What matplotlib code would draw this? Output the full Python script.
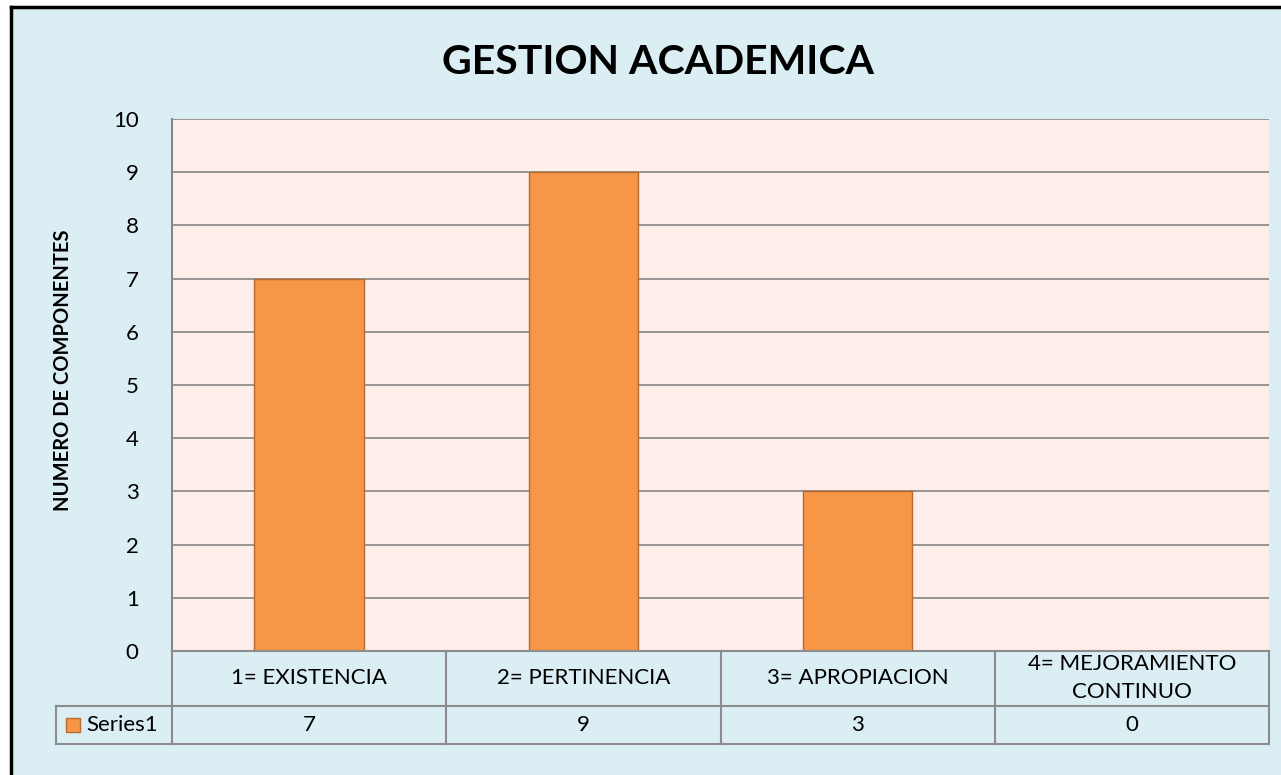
import matplotlib
matplotlib.use("Agg")
import matplotlib.pyplot as plt
from matplotlib.patches import Rectangle
from matplotlib.lines import Line2D
import matplotlib.transforms as mtransforms

categories = ["1= EXISTENCIA", "2= PERTINENCIA", "3= APROPIACION", "4= MEJORAMIENTO\nCONTINUO"]
values = [7, 9, 3, 0]
series_name = "Series1"
yticks = list(range(0, 11))
title = "GESTION ACADEMICA"
ylabel = "NUMERO DE COMPONENTES"

plt.rcParams['font.family'] = ['Lato', 'DejaVu Sans']

W, H = 1281, 775
bg = '#DAEEF3'
plot_bg = '#FDEEE9'
bar_c = '#F79646'
bar_e = '#B8692E'
grid_c = '#868686'
fs = 16

fig = plt.figure(figsize=(W / 100, H / 100), dpi=100)
fig.patch.set_facecolor(bg)

fig.patches.append(Rectangle((0, 0), 11 / W, 1, transform=fig.transFigure,
                             facecolor='white', edgecolor='none', zorder=-1))
fig.patches.append(Rectangle((0, 1 - 7 / H), 1, 7 / H, transform=fig.transFigure,
                             facecolor='white', edgecolor='none', zorder=-1))
fig.lines.append(Line2D([11 / W, 11 / W], [0, 1 - 7 / H], transform=fig.transFigure, color='black', lw=2.5))
fig.lines.append(Line2D([11 / W, 1], [1 - 7 / H, 1 - 7 / H], transform=fig.transFigure, color='black', lw=2.5))

x0, x1 = 172, 1269
y_top, y_bot = 119, 651
ax = fig.add_axes([x0 / W, 1 - y_bot / H, (x1 - x0) / W, (y_bot - y_top) / H])
ax.set_zorder(2)
ax.set_facecolor(plot_bg)
ax.set_xlim(-0.5, len(categories) - 0.5)
ax.set_ylim(0, 10)
ax.set_yticks(yticks)
ax.set_yticklabels([str(t) for t in yticks], fontsize=fs)
ax.tick_params(axis='y', length=0, pad=24)
ax.set_xticks([])
for s in ax.spines.values():
    s.set_visible(False)
ax.spines['left'].set_visible(True)
ax.spines['left'].set_color(grid_c)
ax.spines['left'].set_linewidth(1.5)
ax.yaxis.grid(True, color=grid_c, lw=1.2)
ax.set_axisbelow(True)

xs = list(range(len(categories)))
ax.bar(xs, values, width=0.4, color=bar_c, edgecolor=bar_e, linewidth=1.0, zorder=3)

ax.set_ylabel(ylabel, fontsize=14.5, fontweight='bold')
ax.yaxis.set_label_coords((73 - x0) / (x1 - x0), (y_bot - 370) / (y_bot - y_top))

fig.text(658 / W, 1 - 62 / H, title, ha='center', va='center',
         fontsize=29.5, fontweight='bold')

h_ax = (y_bot - y_top)
def yax(py):
    return (y_bot - py) / h_ax

def xax(px):
    return ax.transAxes.inverted().transform(fig.transFigure.transform((px / W, 0)))[0]

trans = mtransforms.blended_transform_factory(ax.transData, ax.transAxes)
r1 = yax(706)
r2 = yax(744)
lc = '#8C8C8C'
lw = 1.5
left_tab = xax(56)
ax.plot([-0.5, 3.5], [0, 0], transform=trans, color=lc, lw=lw, clip_on=False, zorder=5)
ax.plot([left_tab, 1], [r1, r1], transform=ax.transAxes, color=lc, lw=lw, clip_on=False)
ax.plot([left_tab, 1], [r2, r2], transform=ax.transAxes, color=lc, lw=lw, clip_on=False)
ax.plot([left_tab, left_tab], [r1, r2], transform=ax.transAxes, color=lc, lw=lw, clip_on=False)
for b in [i - 0.5 for i in range(len(categories) + 1)]:
    ax.plot([b, b], [0, r2], transform=trans, color=lc, lw=lw, clip_on=False)
for i, (c, v) in enumerate(zip(categories, values)):
    ax.text(i, r1 / 2, c, transform=trans, ha='center', va='center', fontsize=fs,
            linespacing=1.5)
    ax.text(i, (r1 + r2) / 2, str(v), transform=trans, ha='center', va='center', fontsize=fs)
key_x = xax(66)
key_w = xax(80) - key_x
key_h = 14 / h_ax
ax.add_patch(Rectangle((key_x, (r1 + r2) / 2 - key_h / 2), key_w, key_h, transform=ax.transAxes,
                       facecolor=bar_c, edgecolor=bar_e, lw=1, clip_on=False))
ax.text(xax(86), (r1 + r2) / 2, series_name, transform=ax.transAxes, ha='left', va='center', fontsize=fs)

fig.savefig('out.png', dpi=100, facecolor=fig.get_facecolor())
